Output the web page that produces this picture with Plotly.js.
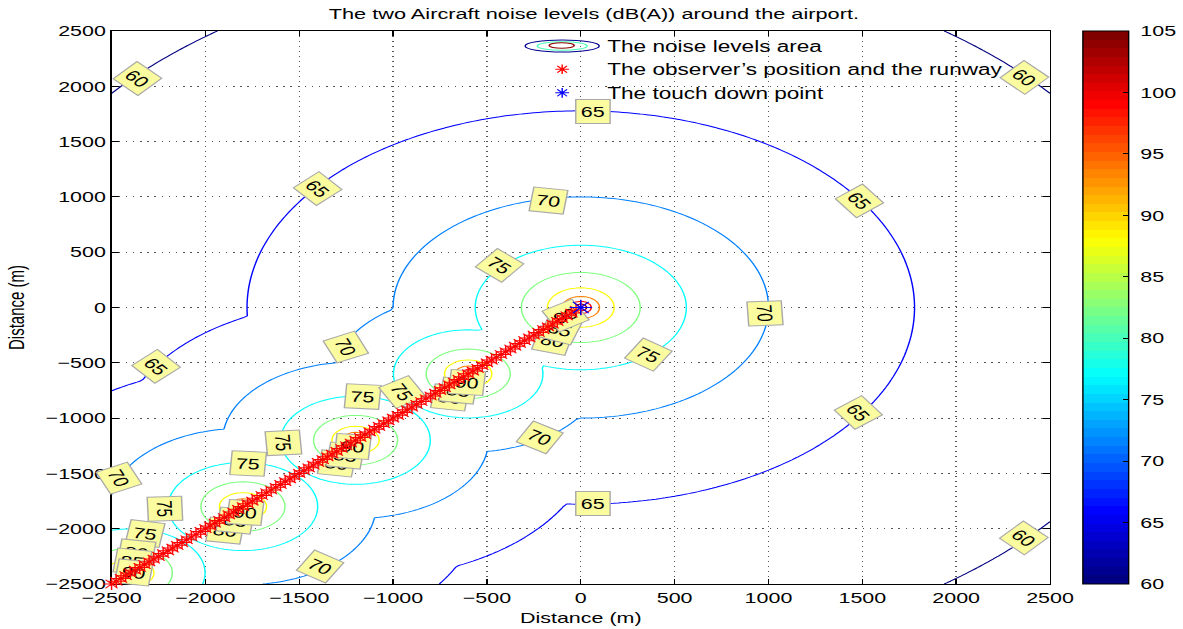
<!DOCTYPE html>
<html><head><meta charset="utf-8">
<script src="https://cdn.plot.ly/plotly-3.0.1.min.js"></script>
<style>
html,body{margin:0;padding:0;overflow:hidden;background:#fff;}
#stage{position:absolute;left:0;top:0;width:827px;height:629px;transform:scaleX(1.4305);transform-origin:0 0;}
#base,#over{position:absolute;left:0;top:0;width:827px;height:629px;}
</style></head><body>
<div id="stage"><div id="base"></div><div id="over"></div></div>
<script>
// ---------------- data ----------------
// noise sources (aircraft positions) and their level (dB(A) at 1 m)
const sourceX = [0, -600, -1200, -1800, -2400];
const sourceY = [0, -600, -1200, -1800, -2400];
const sourceLevel = [130, 127, 127, 127, 127];
const peakLevel = 105;
const levelStart = 60, levelEnd = 100, levelStep = 5;
const colorTicks = [60, 65, 70, 75, 80, 85, 90, 95, 100, 105];

// observer positions along the runway
const observerX = [-2500,-2475,-2450,-2425,-2400,-2375,-2350,-2325,-2300,-2275,-2250,-2225,-2200,-2175,-2150,-2125,-2100,-2075,-2050,-2025,-2000,-1975,-1950,-1925,-1900,-1875,-1850,-1825,-1800,-1775,-1750,-1725,-1700,-1675,-1650,-1625,-1600,-1575,-1550,-1525,-1500,-1475,-1450,-1425,-1400,-1375,-1350,-1325,-1300,-1275,-1250,-1225,-1200,-1175,-1150,-1125,-1100,-1075,-1050,-1025,-1000,-975,-950,-925,-900,-875,-850,-825,-800,-775,-750,-725,-700,-675,-650,-625,-600,-575,-550,-525,-500,-475,-450,-425,-400,-375,-350,-325,-300,-275,-250,-225,-200,-175,-150,-125,-100,-75,-50,-25,0];
const observerY = [-2500,-2475,-2450,-2425,-2400,-2375,-2350,-2325,-2300,-2275,-2250,-2225,-2200,-2175,-2150,-2125,-2100,-2075,-2050,-2025,-2000,-1975,-1950,-1925,-1900,-1875,-1850,-1825,-1800,-1775,-1750,-1725,-1700,-1675,-1650,-1625,-1600,-1575,-1550,-1525,-1500,-1475,-1450,-1425,-1400,-1375,-1350,-1325,-1300,-1275,-1250,-1225,-1200,-1175,-1150,-1125,-1100,-1075,-1050,-1025,-1000,-975,-950,-925,-900,-875,-850,-825,-800,-775,-750,-725,-700,-675,-650,-625,-600,-575,-550,-525,-500,-475,-450,-425,-400,-375,-350,-325,-300,-275,-250,-225,-200,-175,-150,-125,-100,-75,-50,-25,0];
const touchdownX = [0];
const touchdownY = [0];

// contour labels (clabel) : text, placement, rotation
const labelText  = ['60','60','60','65','65','65','65','65','65','70','70','70','70','70','70','75','75','75','75','75','75','75','75','80','85','90','80','85','90','80','85','90','80','85','90','80','85','90'];
const labelX     = [-2361,2366,2356,61,-1401,1481,-2260,1481,61,-173,985,-1256,-216,-2457,-1390,-430,360,-1166,-947,-1588,-1774,-2212,-2319,-2366,-2393,-2380,-152,-109,-80,-696,-654,-606,-1299,-1256,-1214,-1897,-1843,-1790];
const labelY     = [2075,2084,-2084,1768,1080,963,-529,-945,-1768,972,-50,-357,-1171,-1542,-2346,384,-421,-809,-764,-1225,-1406,-1822,-2039,-2212,-2301,-2400,-294,-203,-75,-818,-746,-674,-1406,-1334,-1261,-2012,-1930,-1849];
const labelAngle = [44,44,44,0,48,52,48,53,0,8,87,66,30,65,32,40,33,4,60,86,4,88,10,8,8,8,15,20,-30,8,8,5,8,8,5,8,8,5];

const titleText = 'The two Aircraft noise levels (dB(A)) around the airport.';
const xTitle = 'Distance (m)', yTitle = 'Distance (m)';
const legendNames = ['The noise levels area', 'The observer\u2019s position and the runway', 'The touch down point'];

// ---------------- noise field on a grid ----------------
const gx = [], gy = [];
for (let v = -2500; v <= 2500; v += 25) { gx.push(v); gy.push(v); }
const z = gy.map(y => gx.map(x => {
  let best = -Infinity;
  for (let k = 0; k < sourceX.length; k++) {
    const r = Math.max(1, Math.hypot(x - sourceX[k], y - sourceY[k]));
    best = Math.max(best, sourceLevel[k] - 20 * Math.log10(r));
  }
  return Math.min(peakLevel, best);
}));

// MATLAB jet(64) colorscale
function jet(t){const c=v=>Math.round(255*Math.min(1,Math.max(0,v)));
  return 'rgb('+c(1.5-Math.abs(4*t-3))+','+c(1.5-Math.abs(4*t-2))+','+c(1.5-Math.abs(4*t-1))+')';}
const N = 64, jetScale = [];
for (let i = 0; i < N; i++) { const c = jet(i/(N-1)); jetScale.push([i/N, c]); jetScale.push([(i+1)/N, c]); }
const lineScale = [];
for (let i = 0; i <= 100; i++) lineScale.push([i/100, jet(i/100)]);

const FONT = 'Liberation Sans, Arial, Helvetica, sans-serif';
const W = 827, H = 629, M = {l:78, r:93, t:31, b:45, pad:0};
const xr = [-2500, 2500], yr = [-2500, 2500];

// ---------------- base layer ----------------
const contour = {
  type:'contour', x:gx, y:gy, z:z, zmin:60, zmax:105, zauto:false,
  colorscale:lineScale, showscale:false, hoverinfo:'skip',
  contours:{coloring:'lines', start:levelStart, end:levelEnd, size:levelStep, showlabels:false},
  line:{width:1, smoothing:0}
};
const cbar = {
  type:'scatter', x:[0,0], y:[0,0], mode:'markers', hoverinfo:'skip', showlegend:false,
  marker:{size:1, opacity:0, color:[60,105], cmin:60, cmax:105, colorscale:jetScale, showscale:true,
    colorbar:{x:757.3/827, xanchor:'left', xref:'container', y:0.5, yanchor:'middle', yref:'paper', len:1, lenmode:'fraction',
      thickness:31.5, thicknessmode:'pixels', xpad:0, ypad:0, outlinecolor:'#000', outlinewidth:1,
      tickvals:colorTicks, ticktext:colorTicks.map(v => '\u00a0' + v), ticks:'inside', ticklen:4, tickcolor:'#000',
      tickfont:{family:FONT, size:15, color:'#000'}}}
};
const annotations = labelText.map((t, i) => ({
  x:labelX[i], y:labelY[i], xref:'x', yref:'y', text:t, textangle:labelAngle[i], showarrow:false,
  bgcolor:'#fbfb9f', bordercolor:'#a9a9a9', borderwidth:1, borderpad:3,
  font:{family:FONT, size:15, color:'#000'}
}));
const axisCommon = {
  tickmode:'linear', dtick:500, ticks:'inside', ticklen:5, tickcolor:'#000',
  showline:true, linecolor:'#000', linewidth:1, mirror:'ticks', zeroline:false,
  showgrid:true, gridcolor:'#555', gridwidth:1, griddash:'1px,4px',
  tickfont:{family:FONT, size:15, color:'#000'}, fixedrange:true, automargin:false
};
Plotly.newPlot('base', [contour, cbar], {
  width:W, height:H, margin:M, showlegend:false,
  paper_bgcolor:'#fff', plot_bgcolor:'#fff',
  title:{text:titleText, font:{family:FONT, size:15.2, color:'#000'}, x:0.502, xref:'container', xanchor:'center', y:0.979, yref:'container', yanchor:'middle'},
  xaxis:Object.assign({}, axisCommon, {range:xr, title:{text:xTitle, font:{family:FONT, size:15, color:'#000'}, standoff:7}}),
  yaxis:Object.assign({}, axisCommon, {range:yr, title:{text:yTitle, font:{family:FONT, size:15, color:'#000'}, standoff:10}}),
  annotations:annotations
}, {staticPlot:true, displayModeBar:false});

// ---------------- overlay layer (markers + legend) ----------------
const pw = W - M.l - M.r, ph = H - M.t - M.b;
const px2x = bx => (bx - M.l) / pw;   // base pixel -> paper
const py2y = py => (H - M.b - py) / ph;
function ell(x0, x1, y0, y1, col){ return {type:'circle', xref:'paper', yref:'paper', x0:px2x(x0), x1:px2x(x1), y0:py2y(y1), y1:py2y(y0), line:{color:col, width:1}}; }
const legendShapes = [
  ell(367.1, 418.9, 40, 52, '#00008f'),
  ell(375.5, 410.5, 41.7, 50.3, '#48ffb6'),
  ell(383.9, 401.4, 42.8, 48.2, '#900000')
];
const overTraces = [
  {type:'scatter', x:[null], y:[null], mode:'lines', line:{color:'rgba(0,0,0,0)'}, name:legendNames[0], legendgroup:'a', hoverinfo:'skip'},
  {type:'scatter', x:observerX, y:observerY, mode:'markers', showlegend:false, hoverinfo:'skip',
   marker:{symbol:'asterisk-open', size:10, color:'#ff0000', line:{color:'#ff0000', width:1}}, cliponaxis:false},
  {type:'scatter', x:[null], y:[null], mode:'markers', name:legendNames[1], legendgroup:'b', hoverinfo:'skip',
   marker:{symbol:'asterisk-open', size:8, color:'#ff0000', line:{color:'#ff0000', width:1}}},
  {type:'scatter', x:touchdownX, y:touchdownY, mode:'markers', showlegend:false, hoverinfo:'skip',
   marker:{symbol:'asterisk-open', size:13, color:'#0000ff', line:{color:'#0000ff', width:1}}, cliponaxis:false},
  {type:'scatter', x:[null], y:[null], mode:'markers', name:legendNames[2], legendgroup:'c', hoverinfo:'skip',
   marker:{symbol:'asterisk-open', size:8, color:'#0000ff', line:{color:'#0000ff', width:1}}}
];
Plotly.newPlot('over', overTraces, {
  width:W, height:H, margin:M,
  paper_bgcolor:'rgba(0,0,0,0)', plot_bgcolor:'rgba(0,0,0,0)',
  xaxis:{range:xr, visible:false, fixedrange:true}, yaxis:{range:yr, visible:false, fixedrange:true},
  showlegend:true,
  legend:{x:px2x(361.5), xanchor:'left', y:py2y(29), yanchor:'top', bgcolor:'rgba(0,0,0,0)', borderwidth:0,
    font:{family:FONT, size:15.8, color:'#000'}, tracegroupgap:0, itemwidth:53},
  shapes:legendShapes
}, {staticPlot:true, displayModeBar:false});
</script>
</body></html>
